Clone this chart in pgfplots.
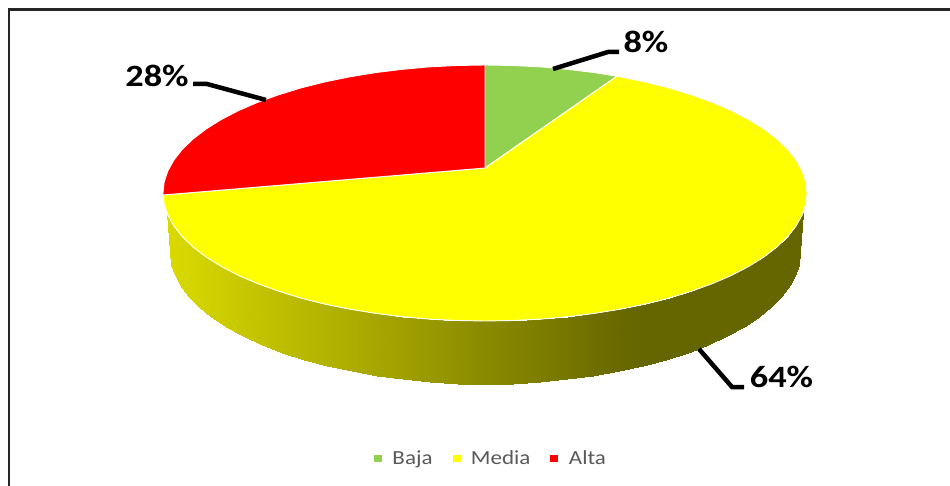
\documentclass[border=0pt]{standalone}
\usepackage{fontspec}
\usepackage{pgfplots}
\pgfplotsset{compat=1.18}
\setmainfont{Carlito}
\newfontfamily\labfont[FakeStretch=1.17]{Carlito}
\newfontfamily\legfont[FakeStretch=1.15]{Carlito}
\definecolor{gbaja}{HTML}{92D050}
\definecolor{ymedia}{HTML}{FFFF00}
\definecolor{ralta}{HTML}{FF0000}
\definecolor{legtext}{HTML}{595959}
\begin{document}
\begin{tikzpicture}
\useasboundingbox (0,0) rectangle (950pt,486pt);
\begin{axis}[
  at={(0,0)}, anchor=south west,
  scale only axis, width=950pt, height=486pt,
  xmin=0, xmax=950, ymin=0, ymax=486, y dir=reverse,
  hide axis,
  colormap={wall}{rgb255=(217,217,0) rgb255=(102,102,0)},
  point meta min=0, point meta max=1,
  legend columns=3,
  legend style={at={(axis cs:491,458.5)}, anchor=center, draw=none, fill=none,
    font=\legfont\fontsize{20}{20}\selectfont, text=legtext,
    /tikz/every even column/.append style={column sep=18pt},
    inner sep=0pt, row sep=0pt},
  legend image code/.code={\fill[#1,draw=none] (0pt,-3.8pt) rectangle (8pt,3.8pt);\path (16pt,0pt);},
]
% side wall
\addplot[surf, shader=interp, mesh/rows=2, point meta=explicit, forget plot] table[meta=c] {
x y c
167 213 0
167.9 215.2 0
174 226.1 0.004
182.4 236.8 0.023
193.2 247.1 0.046
206.1 257 0.074
221.2 266.4 0.107
238.3 275.3 0.145
257.3 283.5 0.186
278 291 0.231
300.3 297.9 0.280
324 303.9 0.332
348.9 309 0.386
374.9 313.3 0.443
401.7 316.6 0.502
429.1 319.1 0.561
456.9 320.5 0.622
485 321 0.683
513.1 320.5 0.745
540.9 319.1 0.805
568.3 316.6 0.865
595.1 313.3 0.924
621.1 309 0.981
646 303.9 1
669.7 297.9 1
692 291 1
712.7 283.5 1
731.7 275.3 1
748.8 266.4 1
763.9 257 1
776.8 247.1 1
787.6 236.8 1
796 226.1 1
802.1 215.2 1
803 213 1
171 265 0
173.8 273.3 0.004
179.8 284.7 0.017
188.1 295.8 0.035
198.6 306.6 0.058
211.3 317 0.086
226.1 326.9 0.118
242.9 336.1 0.155
261.6 344.8 0.196
281.9 352.6 0.240
303.7 359.8 0.288
327 366 0.338
351.5 371.4 0.392
376.9 375.9 0.447
403.2 379.4 0.505
430.1 382 0.564
457.5 383.5 0.623
485 384 0.683
512.5 383.5 0.743
539.9 382 0.803
566.8 379.4 0.862
593.1 375.9 0.919
618.5 371.4 0.975
643 366 1
666.3 359.8 1
688.1 352.6 1
708.4 344.8 1
727.1 336.1 1
743.9 326.9 1
758.7 317 1
771.4 306.6 1
781.9 295.8 1
790.2 284.7 1
796.2 273.3 1
799 265 1
};
% slices
\addplot[fill=gbaja, draw=white, line width=0.9pt] coordinates {
(485,168) (485,65) (513.1,65.5) (540.9,66.9) (568.3,69.4) (595.1,72.7) (617,76.2)
} -- cycle;
\addlegendentry{Baja}
\addplot[fill=ymedia, draw=white, line width=0.9pt] coordinates {
(485,168) (617,76.2) (646,82.1) (669.7,88.1) (692,95) (712.7,102.5) (731.7,110.7)
(748.8,119.6) (763.9,129) (776.8,138.9) (787.6,149.2) (796,159.9) (802.1,170.8)
(805.8,181.8) (807,193) (805.8,204.2) (802.1,215.2) (796,226.1) (787.6,236.8)
(776.8,247.1) (763.9,257) (748.8,266.4) (731.7,275.3) (712.7,283.5) (692,291)
(669.7,297.9) (646,303.9) (621.1,309) (595.1,313.3) (568.3,316.6) (540.9,319.1)
(513.1,320.5) (485,321) (456.9,320.5) (429.1,319.1) (401.7,316.6) (374.9,313.3)
(348.9,309) (324,303.9) (300.3,297.9) (278,291) (257.3,283.5) (238.3,275.3)
(221.2,266.4) (206.1,257) (193.2,247.1) (182.4,236.8) (174,226.1) (167.9,215.2)
(164.2,204.2) (163,195)
} -- cycle;
\addlegendentry{Media}
\addplot[fill=ralta, draw=white, line width=0.9pt] coordinates {
(485,168) (163,195) (163,193) (164.2,181.8) (167.9,170.8) (174,159.9) (182.4,149.2)
(193.2,138.9) (206.1,129) (221.2,119.6) (238.3,110.7) (257.3,102.5) (278,95)
(300.3,88.1) (324,82.1) (348.9,77) (374.9,72.7) (401.7,69.4) (429.1,66.9)
(456.9,65.5) (485,65)
} -- cycle;
\addlegendentry{Alta}
% leader lines
\addplot[black, line width=4.5pt, forget plot] coordinates {(193,84) (207,84) (266,100)};
\addplot[black, line width=4.5pt, forget plot] coordinates {(553,69) (608,52) (619,52)};
\addplot[black, line width=4.5pt, forget plot] coordinates {(699,349) (732,387) (744,387)};
% frame
\addplot[black!85, line width=2.5pt, forget plot] coordinates {(9,486) (9,9.5) (950,9.5)};
% labels
\node[font=\labfont\bfseries\fontsize{31}{31}\selectfont, inner sep=0pt] at (axis cs:157,75.5) {28\%};
\node[font=\labfont\bfseries\fontsize{31}{31}\selectfont, inner sep=0pt] at (axis cs:646,42) {8\%};
\node[font=\labfont\bfseries\fontsize{31}{31}\selectfont, inner sep=0pt] at (axis cs:781.5,377) {64\%};
\end{axis}
\end{tikzpicture}
\end{document}
